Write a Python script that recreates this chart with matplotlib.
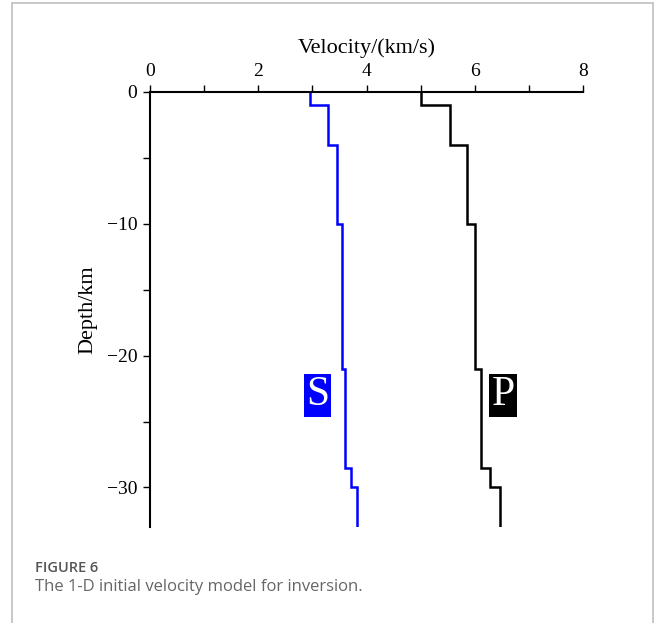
import numpy as np
import matplotlib
matplotlib.use("Agg")
import matplotlib.pyplot as plt
from matplotlib.lines import Line2D
from matplotlib.ticker import MultipleLocator

# Layer boundaries (km, negative downward) and velocities (km/s), top to bottom
layer_edges = [0, -1, -4, -10, -21, -28.5, -30, -33]
vp = [5.0, 5.55, 5.85, 6.0, 6.12, 6.28, 6.47]
vs = [2.96, 3.28, 3.46, 3.55, 3.61, 3.72, 3.83]

x_ticks = [0, 2, 4, 6, 8]
y_ticks = [0, -10, -20, -30]

serif = "Liberation Serif"

fig = plt.figure(figsize=(6.56, 6.23), dpi=100)
ax = fig.add_axes([150 / 656, 1 - 527 / 623, 433 / 656, 435 / 623])

# stairs wants increasing edges
edges_up = layer_edges[::-1]
ax.stairs(vs[::-1], edges_up, orientation="horizontal", baseline=None,
          color="#0000ff", linewidth=1.8)
ax.stairs(vp[::-1], edges_up, orientation="horizontal", baseline=None,
          color="black", linewidth=1.8)

ax.set_xlim(0, 8)
ax.set_ylim(-33, 0)

for s in ("right", "bottom"):
    ax.spines[s].set_visible(False)
for s in ("left", "top"):
    ax.spines[s].set_linewidth(1.5)

ax.xaxis.set_ticks_position("top")
ax.xaxis.set_label_position("top")
ax.set_xticks(x_ticks)
ax.set_yticks(y_ticks)
ax.xaxis.set_minor_locator(MultipleLocator(1))
ax.yaxis.set_minor_locator(MultipleLocator(5))
ax.tick_params(which="both", direction="out", width=1, length=5,
               labelsize=14, pad=4)
for lab in ax.get_xticklabels() + ax.get_yticklabels():
    lab.set_fontfamily(serif)

ax.set_xlabel("Velocity/(km/s)", fontsize=16, family=serif, labelpad=7)
ax.set_ylabel("Depth/km", fontsize=16, family=serif, labelpad=7)

ax.text(3.1, -23, "S", color="white", fontsize=30, family=serif,
        ha="center", va="center",
        bbox=dict(facecolor="#0000ff", edgecolor="none", pad=1.5))
ax.text(6.52, -23, "P", color="white", fontsize=30, family=serif,
        ha="center", va="center",
        bbox=dict(facecolor="black", edgecolor="none", pad=1.5))

# Caption
fig.text(35 / 656, 1 - 568 / 623, "FIGURE 6", fontsize=10.5,
         family="Open Sans", weight="semibold", color="#555555", va="center")
fig.text(35 / 656, 1 - 587 / 623, "The 1-D initial velocity model for inversion.",
         fontsize=12, family="Open Sans", color="#666666", va="center")

# Card frame
fc = "#c4c4c4"
fig.add_artist(Line2D([12 / 656, 12 / 656], [0, 1 - 2.5 / 623], color=fc,
                      linewidth=1.3, transform=fig.transFigure))
fig.add_artist(Line2D([653 / 656, 653 / 656], [0, 1 - 2.5 / 623], color=fc,
                      linewidth=1.3, transform=fig.transFigure))
fig.add_artist(Line2D([12 / 656, 653 / 656], [1 - 2.5 / 623, 1 - 2.5 / 623],
                      color=fc, linewidth=1.3, transform=fig.transFigure))

fig.savefig("out.png", dpi=100, facecolor="white")
